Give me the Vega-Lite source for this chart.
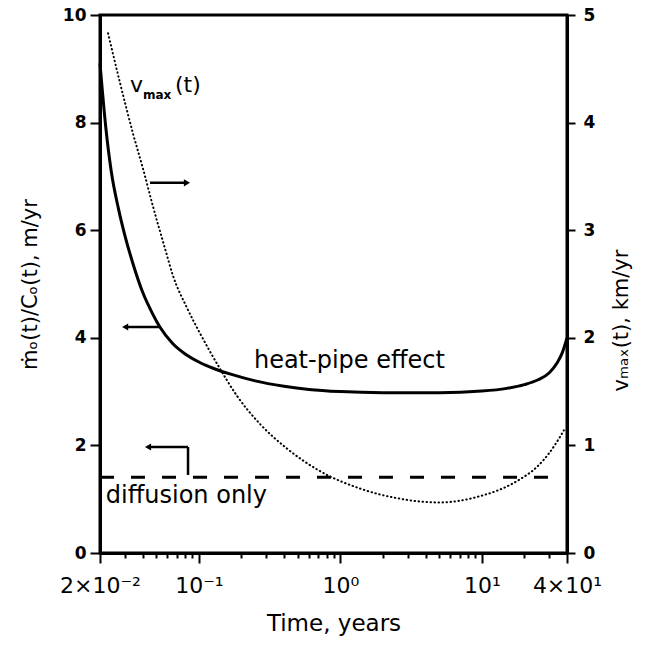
{
  "$schema": "https://vega.github.io/schema/vega-lite/v6.json",
  "width": 467,
  "height": 538,
  "autosize": {"type": "none"},
  "padding": {"left": 100, "top": 15, "right": 84, "bottom": 95},
  "background": "white",
  "config": {
    "font": "DejaVu Sans",
    "view": {"stroke": "black", "strokeWidth": 3},
    "axis": {
      "grid": false,
      "domainColor": "black",
      "domainWidth": 3,
      "tickColor": "black",
      "tickWidth": 2,
      "labelColor": "black",
      "titleColor": "black",
      "labelFont": "DejaVu Sans",
      "titleFont": "DejaVu Sans",
      "titleFontWeight": "normal",
      "labelOverlap": false,
      "labelFlush": false,
      "labelBound": false
    }
  },
  "datasets": {
    "solid": [
      {"t": 0.02, "y": 9.1}, {"t": 0.022, "y": 7.9}, {"t": 0.024, "y": 7.1},
      {"t": 0.027, "y": 6.4}, {"t": 0.03, "y": 5.9}, {"t": 0.034, "y": 5.4},
      {"t": 0.04, "y": 4.85}, {"t": 0.047, "y": 4.45}, {"t": 0.053, "y": 4.2},
      {"t": 0.065, "y": 3.9}, {"t": 0.08, "y": 3.7}, {"t": 0.1, "y": 3.55},
      {"t": 0.13, "y": 3.42}, {"t": 0.17, "y": 3.32}, {"t": 0.25, "y": 3.2},
      {"t": 0.4, "y": 3.1}, {"t": 0.6, "y": 3.04}, {"t": 1, "y": 3.0},
      {"t": 2, "y": 2.98}, {"t": 5, "y": 2.98}, {"t": 10, "y": 3.01},
      {"t": 15, "y": 3.06}, {"t": 20, "y": 3.13}, {"t": 25, "y": 3.22},
      {"t": 30, "y": 3.35}, {"t": 34, "y": 3.53}, {"t": 37, "y": 3.72},
      {"t": 40, "y": 4.0}
    ],
    "dashed": [{"t": 0.02, "y": 1.41}, {"t": 31, "y": 1.41}],
    "dotted": [
      {"t": 0.0228, "v": 4.83}, {"t": 0.0277, "v": 4.37}, {"t": 0.0342, "v": 3.9},
      {"t": 0.0403, "v": 3.57}, {"t": 0.0474, "v": 3.22}, {"t": 0.0576, "v": 2.83},
      {"t": 0.0655, "v": 2.58}, {"t": 0.0823, "v": 2.28}, {"t": 0.102, "v": 2.04},
      {"t": 0.14, "v": 1.72}, {"t": 0.186, "v": 1.46}, {"t": 0.27, "v": 1.2},
      {"t": 0.42, "v": 0.97}, {"t": 0.72, "v": 0.76}, {"t": 1.37, "v": 0.6},
      {"t": 2.5, "v": 0.51}, {"t": 5, "v": 0.47}, {"t": 9.2, "v": 0.52},
      {"t": 17.8, "v": 0.67}, {"t": 24.5, "v": 0.8}, {"t": 30, "v": 0.93},
      {"t": 35.7, "v": 1.08}, {"t": 38, "v": 1.14}
    ],
    "arrows": [
      {"t": 0.0301, "t2": 0.053, "y": 4.2, "y2": 4.2},
      {"t": 0.0451, "t2": 0.0823, "y": 6.88, "y2": 6.88},
      {"t": 0.0437, "t2": 0.0838, "y": 1.97, "y2": 1.97},
      {"t": 0.0838, "t2": 0.0838, "y": 1.97, "y2": 1.45}
    ],
    "heads": [
      {"t": 0.0301, "y": 4.2, "dir": "left"},
      {"t": 0.0823, "y": 6.88, "dir": "right"},
      {"t": 0.0437, "y": 1.97, "dir": "left"}
    ],
    "labels": [
      {"t": 0.245, "y": 3.44, "label": "heat-pipe effect"},
      {"t": 0.022, "y": 0.93, "label": "diffusion only"}
    ],
    "vlabel": [
      {"t": 0.0326, "y": 8.57, "label": "v"},
      {"t": 0.0678, "y": 8.57, "label": "(t)"}
    ],
    "vsub": [{"t": 0.0402, "y": 8.44, "label": "max"}]
  },
  "layer": [
    {
      "encoding": {
        "x": {
          "field": "t",
          "type": "quantitative",
          "scale": {"type": "log", "domain": [0.02, 40], "nice": false},
          "axis": {
            "orient": "bottom",
            "title": "Time, years",
            "titleFontSize": 23,
            "titlePadding": 16,
            "labelFontSize": 22,
            "labelPadding": 12,
            "tickSize": 10,
            "values": [0.02, 0.1, 1, 10, 40],
            "labelExpr": "datum.value == 0.02 ? '2×10⁻²' : datum.value == 0.1 ? '10⁻¹' : datum.value == 1 ? '10⁰' : datum.value == 10 ? '10¹' : '4×10¹'"
          }
        },
        "y": {
          "field": "y",
          "type": "quantitative",
          "scale": {"domain": [0, 10], "nice": false},
          "axis": {
            "title": "ṁₒ(t)/Cₒ(t), m/yr",
            "titleFontSize": 21,
            "titlePadding": 22,
            "values": [0, 2, 4, 6, 8, 10],
            "labelFontSize": 17,
            "labelFontWeight": "bold",
            "tickSize": 10,
            "labelPadding": 4
          }
        }
      },
      "layer": [
        {"data": {"name": "solid"}, "mark": {"type": "line", "color": "black", "strokeWidth": 3, "interpolate": "monotone"}},
        {"data": {"name": "dashed"}, "mark": {"type": "line", "color": "black", "strokeWidth": 3, "strokeDash": [14, 17]}},
        {"data": {"name": "arrows"}, "mark": {"type": "rule", "color": "black", "strokeWidth": 2.5},
         "encoding": {"x2": {"field": "t2"}, "y2": {"field": "y2"}}},
        {"data": {"name": "heads"}, "mark": {"type": "point", "filled": true, "color": "black", "size": 50, "opacity": 1},
         "encoding": {"shape": {"field": "dir", "type": "nominal", "scale": {"domain": ["left", "right"], "range": ["triangle-left", "triangle-right"]}, "legend": null}}},
        {"data": {"name": "labels"}, "mark": {"type": "text", "align": "left", "baseline": "alphabetic", "fontSize": 24, "color": "black", "font": "DejaVu Sans"},
         "encoding": {"text": {"field": "label"}}},
        {"data": {"name": "vlabel"}, "mark": {"type": "text", "align": "left", "baseline": "alphabetic", "fontSize": 22, "color": "black", "font": "DejaVu Sans"},
         "encoding": {"text": {"field": "label"}}},
        {"data": {"name": "vsub"}, "mark": {"type": "text", "align": "left", "baseline": "alphabetic", "fontSize": 12, "fontWeight": "bold", "color": "black", "font": "DejaVu Sans"},
         "encoding": {"text": {"field": "label"}}}
      ]
    },
    {
      "data": {"name": "dotted"},
      "mark": {"type": "line", "color": "black", "strokeWidth": 2, "strokeDash": [0.5, 3.5], "strokeCap": "round", "interpolate": "monotone"},
      "encoding": {
        "x": {
          "field": "t",
          "type": "quantitative",
          "scale": {"type": "log", "domain": [0.02, 40], "nice": false},
          "axis": {
            "orient": "bottom",
            "title": null,
            "labels": false,
            "domain": false,
            "tickSize": 5,
            "values": [0.03, 0.04, 0.05, 0.06, 0.07, 0.08, 0.09, 0.2, 0.3, 0.4, 0.5, 0.6, 0.7, 0.8, 0.9, 2, 3, 4, 5, 6, 7, 8, 9, 20, 30]
          }
        },
        "y": {
          "field": "v",
          "type": "quantitative",
          "scale": {"domain": [0, 5], "nice": false},
          "axis": {
            "orient": "right",
            "title": "vₘₐₓ(t), km/yr",
            "titleFontSize": 21,
            "titleAngle": 270,
            "titleBaseline": "top",
            "titlePadding": 16,
            "titleY": 305,
            "values": [0, 1, 2, 3, 4, 5],
            "labelFontSize": 17,
            "labelFontWeight": "bold",
            "tickSize": 8,
            "labelPadding": 8
          }
        }
      }
    }
  ],
  "resolve": {"scale": {"y": "independent"}, "axis": {"x": "independent"}}
}
